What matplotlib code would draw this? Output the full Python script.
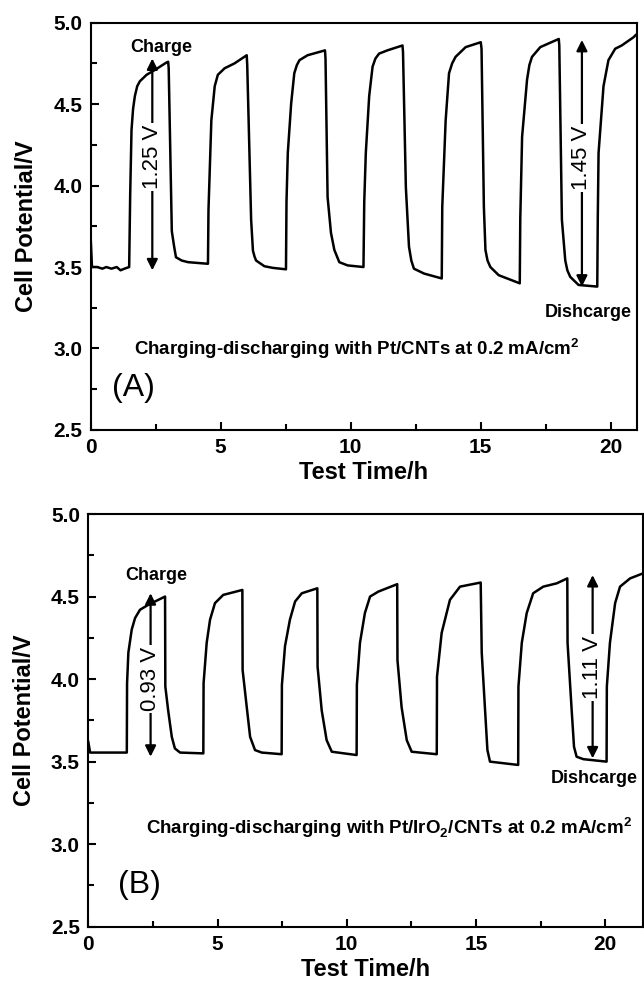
import matplotlib
matplotlib.use("Agg")
import matplotlib.pyplot as plt
from matplotlib.ticker import MultipleLocator

plt.rcParams["font.family"] = ["Liberation Sans", "DejaVu Sans"]
plt.rcParams["mathtext.fontset"] = "custom"
plt.rcParams["mathtext.rm"] = "Liberation Sans"
plt.rcParams["mathtext.bf"] = "Liberation Sans:bold"

# panel A: Pt/CNTs (time in h, potential in V)
time_a = [0.0, 0.05, 0.25, 0.45, 0.6, 0.8, 1.0, 1.15, 1.3, 1.48,
          1.52, 1.57, 1.63, 1.70, 1.79, 1.89, 2.15, 2.47, 2.91, 2.98,
          3.00, 3.12, 3.21, 3.28, 3.5, 3.74, 4.51,
          4.53, 4.64, 4.77, 4.89, 5.15, 5.53, 6.0,
          6.02, 6.17, 6.24, 6.30, 6.36, 6.68, 7.0, 7.51,
          7.53, 7.58, 7.71, 7.83, 7.93, 8.03, 8.34, 9.01,
          9.03, 9.11, 9.24, 9.37, 9.56, 9.88, 10.49,
          10.52, 10.58, 10.71, 10.84, 10.95, 11.09, 11.41, 11.99,
          12.01, 12.12, 12.24, 12.33, 12.43, 12.82, 13.50,
          13.52, 13.65, 13.78, 13.90, 14.03, 14.42, 15.0,
          15.03, 15.12, 15.18, 15.26, 15.37, 15.69, 16.50,
          16.52, 16.59, 16.78, 16.87, 16.97, 17.29, 18.0,
          18.02, 18.12, 18.25, 18.33, 18.44, 18.76, 19.48,
          19.50, 19.53, 19.72, 19.91, 20.17, 20.42, 20.87, 21.0]
volt_a = [3.68, 3.50, 3.50, 3.49, 3.50, 3.49, 3.50, 3.48, 3.49, 3.50,
          3.95, 4.34, 4.47, 4.55, 4.61, 4.64, 4.68, 4.71, 4.755, 4.76,
          4.72, 3.72, 3.625, 3.56, 3.54, 3.53, 3.52,
          3.85, 4.40, 4.61, 4.68, 4.72, 4.75, 4.80,
          4.74, 3.79, 3.60, 3.565, 3.54, 3.505, 3.495, 3.486,
          3.90, 4.20, 4.505, 4.69, 4.74, 4.77, 4.80, 4.83,
          4.78, 3.93, 3.71, 3.605, 3.53, 3.51, 3.50,
          3.90, 4.20, 4.55, 4.73, 4.78, 4.81, 4.83, 4.86,
          4.82, 3.99, 3.625, 3.54, 3.49, 3.46, 3.43,
          3.87, 4.40, 4.69, 4.75, 4.79, 4.85, 4.88,
          4.84, 3.87, 3.605, 3.54, 3.50, 3.45, 3.40,
          3.80, 4.30, 4.65, 4.74, 4.79, 4.85, 4.90,
          4.86, 3.79, 3.54, 3.48, 3.44, 3.39, 3.38,
          3.80, 4.20, 4.61, 4.77, 4.84, 4.86, 4.91, 4.93]

# panel B: Pt/IrO2/CNTs
time_b = [0.0, 0.07, 0.5, 1.0, 1.49,
          1.50, 1.55, 1.68, 1.81, 2.0, 2.32, 2.97,
          2.98, 3.09, 3.23, 3.35, 3.55, 4.45,
          4.46, 4.58, 4.71, 4.90, 5.22, 5.96,
          5.97, 6.13, 6.26, 6.45, 6.71, 7.48,
          7.49, 7.61, 7.80, 8.0, 8.26, 8.86,
          8.87, 9.03, 9.22, 9.42, 10.38,
          10.39, 10.51, 10.70, 10.90, 11.22, 11.95,
          11.96, 12.12, 12.32, 12.51, 13.48,
          13.49, 13.67, 13.99, 14.38, 15.18,
          15.22, 15.35, 15.44, 15.54, 16.63,
          16.64, 16.77, 16.96, 17.21, 17.60, 18.12, 18.53,
          18.54, 18.70, 18.79, 18.89, 19.15, 20.05,
          20.06, 20.18, 20.38, 20.57, 20.96, 21.45]
volt_b = [3.62, 3.555, 3.555, 3.555, 3.555,
          3.975, 4.16, 4.30, 4.37, 4.42, 4.45, 4.50,
          3.955, 3.81, 3.65, 3.58, 3.555, 3.55,
          3.975, 4.22, 4.36, 4.46, 4.51, 4.54,
          4.055, 3.83, 3.65, 3.57, 3.555, 3.545,
          3.965, 4.20, 4.36, 4.47, 4.52, 4.55,
          4.075, 3.81, 3.63, 3.56, 3.54,
          3.965, 4.22, 4.40, 4.50, 4.53, 4.575,
          4.115, 3.83, 3.63, 3.56, 3.545,
          4.015, 4.28, 4.48, 4.56, 4.585,
          4.16, 3.81, 3.57, 3.50, 3.48,
          3.955, 4.22, 4.40, 4.52, 4.56, 4.58, 4.61,
          4.22, 3.81, 3.59, 3.53, 3.515, 3.50,
          3.955, 4.22, 4.46, 4.56, 4.61, 4.64]

BOLD = dict(fontweight="bold")


def style_axes(ax, xmax):
    ax.set_xlim(0, xmax)
    ax.set_ylim(2.5, 5.0)
    ax.xaxis.set_major_locator(MultipleLocator(5))
    ax.xaxis.set_minor_locator(MultipleLocator(2.5))
    ax.yaxis.set_major_locator(MultipleLocator(0.5))
    ax.yaxis.set_minor_locator(MultipleLocator(0.25))
    ax.tick_params(which="both", direction="in", top=False, right=False, width=1.5)
    ax.tick_params(which="major", length=6, pad=6, labelsize=15)
    ax.tick_params(which="minor", length=4)
    for lab in ax.get_xticklabels() + ax.get_yticklabels():
        lab.set_fontweight("bold")
    ax.yaxis.set_major_formatter(matplotlib.ticker.FormatStrFormatter("%.1f"))
    for sp in ax.spines.values():
        sp.set_linewidth(1.5)
    ax.set_xlabel("Test Time/h", fontsize=17, labelpad=3, **BOLD)
    ax.set_ylabel("Cell Potential/V", fontsize=17, labelpad=11, **BOLD)


def span_arrow(ax, x, y0, y1, label, ytext):
    ax.annotate("", xy=(x, y1), xytext=(x, y0),
                arrowprops=dict(arrowstyle="<|-|>", color="k", lw=1.6,
                                mutation_scale=16, shrinkA=0, shrinkB=0))
    ax.text(x, ytext, label, rotation=90, ha="center", va="center", fontsize=16,
            bbox=dict(facecolor="white", edgecolor="none", pad=1.5), zorder=5)


fig = plt.figure(figsize=(6.44, 9.9), dpi=100)

ax1 = fig.add_axes([0.1408, 0.5657, 0.848, 0.4114])
ax1.plot(time_a, volt_a, color="k", lw=1.8)
style_axes(ax1, 21.0)
ax1.text(2.73, 4.85, "Charge", ha="center", va="center", fontsize=13, **BOLD)
span_arrow(ax1, 2.37, 3.48, 4.78, "1.25 V", 4.175)
span_arrow(ax1, 18.89, 3.38, 4.894, "1.45 V", 4.17)
ax1.text(19.15, 3.22, "Dishcarge", ha="center", va="center", fontsize=13, **BOLD)
ax1.text(10.23, 3.0, "Charging-discharging with Pt/CNTs at 0.2 mA/cm$^{\\mathbf{2}}$",
         ha="center", va="center", fontsize=13.5, **BOLD)
ax1.text(1.66, 2.76, "(A)", ha="center", va="center", fontsize=23)

ax2 = fig.add_axes([0.1371, 0.0639, 0.861, 0.4169])
ax2.plot(time_b, volt_b, color="k", lw=1.8)
style_axes(ax2, 21.45)
ax2.text(2.64, 4.63, "Charge", ha="center", va="center", fontsize=13, **BOLD)
span_arrow(ax2, 2.41, 3.53, 4.52, "0.93 V", 4.0)
span_arrow(ax2, 19.51, 3.52, 4.63, "1.11 V", 4.07)
ax2.text(19.56, 3.40, "Dishcarge", ha="center", va="center", fontsize=13, **BOLD)
ax2.text(11.63, 3.10,
         "Charging-discharging with Pt/IrO$_{\\mathbf{2}}$/CNTs at 0.2 mA/cm$^{\\mathbf{2}}$",
         ha="center", va="center", fontsize=13.5, **BOLD)
ax2.text(1.97, 2.75, "(B)", ha="center", va="center", fontsize=23)

fig.savefig("out.png", dpi=100)
